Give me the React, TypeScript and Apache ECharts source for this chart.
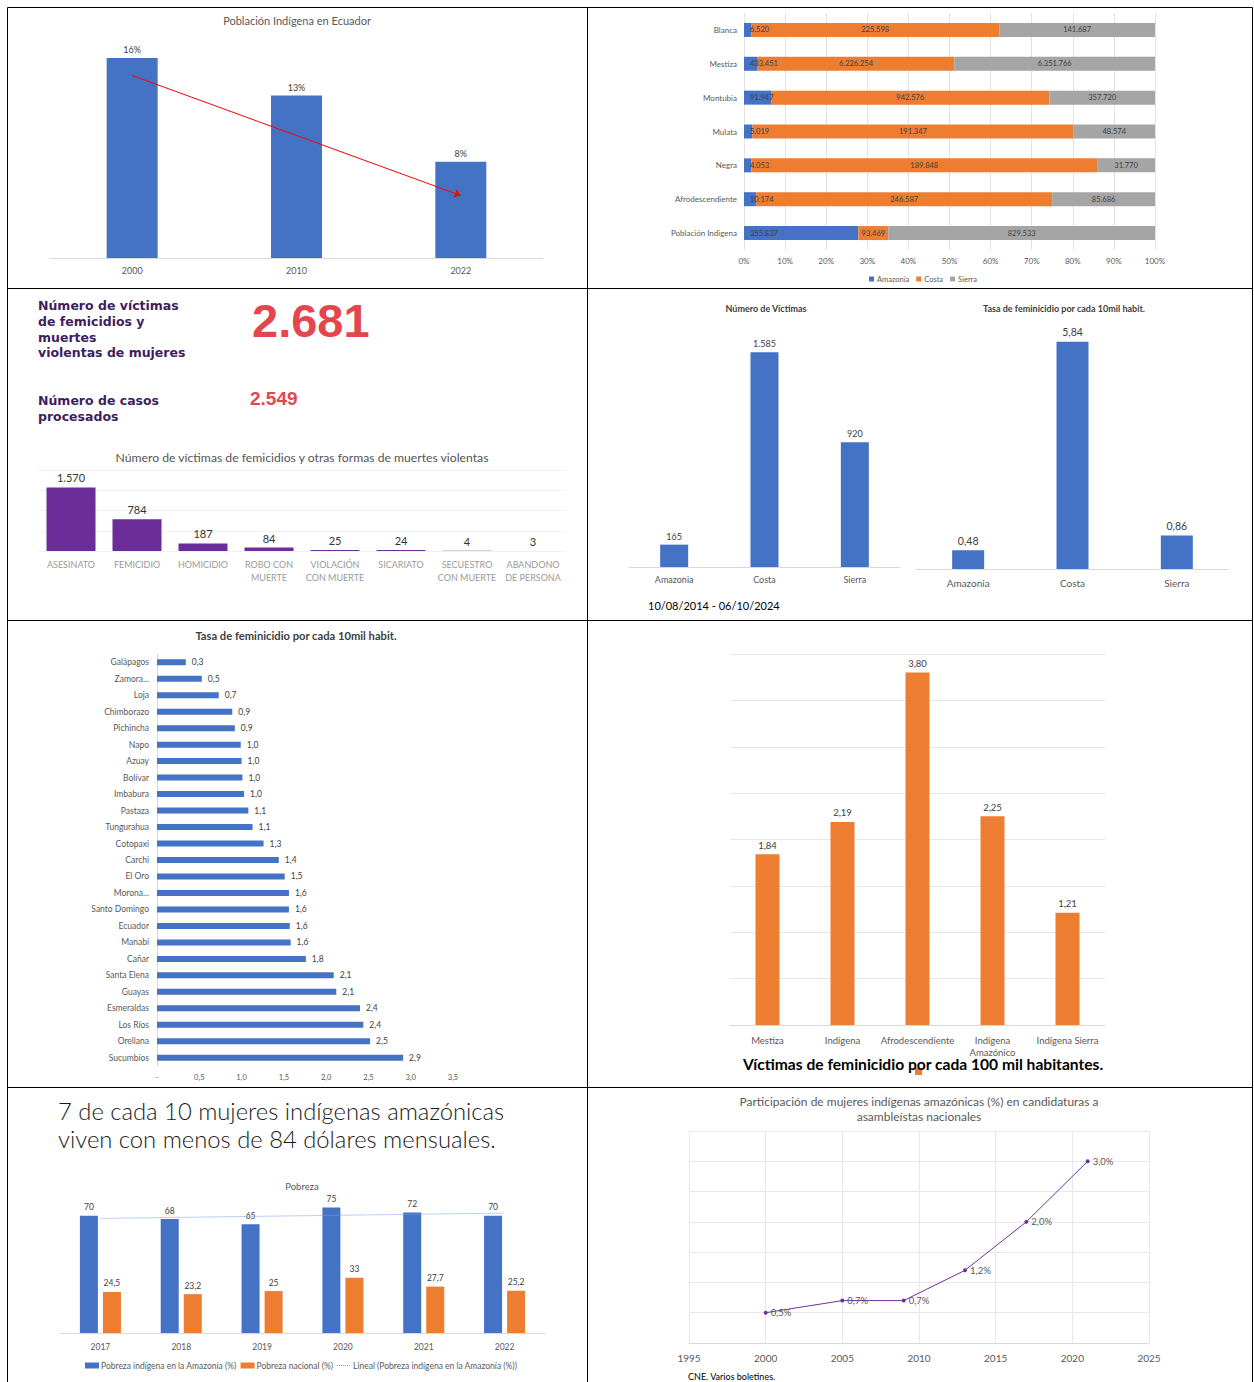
import React, { useEffect, useRef } from 'react';
import * as echarts from 'echarts';

const FONT = 'Lato, "Open Sans", sans-serif';

// Panel 1 — Población Indígena en Ecuador
const popYears = ['2000', '2010', '2022'];
const popShare = [16, 13, 7.7];
const popArrow = [14.6, 5.0];

// Panel 2 — stacked shares by region
const ethnicGroups = ['Blanca', 'Mestiza', 'Montubia', 'Mulata', 'Negra', 'Afrodescendiente', 'Población Indigena'];
const regionNames = ['Amazonía', 'Costa', 'Sierra'];
const amazonia = [6520, 433451, 91947, 5019, 4053, 10174, 355837];
const costa = [225598, 6226254, 942576, 191347, 189848, 246587, 93469];
const sierra = [141687, 6351766, 357720, 48574, 31770, 85686, 829533];

// Panel 3 — KPIs and death types
const kpiVictims = 2681;
const kpiCases = 2549;
const deathTypes = ['ASESINATO', 'FEMICIDIO', 'HOMICIDIO', 'ROBO CON\nMUERTE', 'VIOLACIÓN\nCON MUERTE', 'SICARIATO', 'SECUESTRO\nCON MUERTE', 'ABANDONO\nDE PERSONA'];
const deathCounts = [1570, 784, 187, 84, 25, 24, 4, 3];

// Panel 4 — by region
const regions3 = ['Amazonia', 'Costa', 'Sierra'];
const victimsByRegion = [165, 1585, 920];
const rateByRegion = [0.48, 5.84, 0.86];
const periodText = '10/08/2014 - 06/10/2024';

// Panel 5 — by province
const provinces = ['Galápagos', 'Zamora...', 'Loja', 'Chimborazo', 'Pichincha', 'Napo', 'Azuay', 'Bolívar', 'Imbabura', 'Pastaza', 'Tungurahua', 'Cotopaxi', 'Carchi', 'El Oro', 'Morona...', 'Santo Domingo', 'Ecuador', 'Manabí', 'Cañar', 'Santa Elena', 'Guayas', 'Esmeraldas', 'Los Ríos', 'Orellana', 'Sucumbíos'];
const provinceRates = [0.34, 0.53, 0.73, 0.89, 0.92, 0.99, 1.0, 1.01, 1.03, 1.08, 1.13, 1.26, 1.44, 1.51, 1.56, 1.56, 1.57, 1.58, 1.76, 2.09, 2.12, 2.4, 2.44, 2.52, 2.91];

// Panel 6 — by ethnicity
const ethnicities = ['Mestiza', 'Indígena', 'Afrodescendiente', 'Indígena\nAmazónico', 'Indígena Sierra'];
const ethnicRates = [1.84, 2.19, 3.8, 2.25, 1.21];

// Panel 7 — Pobreza
const povYears = ['2017', '2018', '2019', '2020', '2021', '2022'];
const povAmazon = [70, 68, 65, 75, 72, 70];
const povNational = [24.5, 23.2, 25, 33, 27.7, 25.2];
const povSeries = ['Pobreza indígena en la Amazonía (%)', 'Pobreza nacional (%)', 'Lineal (Pobreza indígena en la Amazonía (%))'];

// Panel 8 — candidaturas
const candYears = [2000, 2005, 2009, 2013, 2017, 2021];
const candShare = [0.5, 0.7, 0.7, 1.2, 2.0, 3.0];

const BLUE = '#4472c4';
const ORANGE = '#ed7d31';
const GRAY = '#a5a5a5';
const PURPLE = '#6a2d9a';
const RED = '#e3464f';
const AXIS = '#d9d9d9';
const LABEL = '#595959';
const TREND = '#7f9fd8';

// dotted-line legend icon (bounding box 14x6 kept by the two leading moveTo points)
const DOTTED_ICON = 'path://M0,0M14,6' + [0, 2, 4, 6, 8, 10, 12].map((x) => `M${x},2.5h1.1v1h-1.1z`).join('');

const thousands = (n: number) => String(Math.round(n)).replace(/\B(?=(\d{3})+(?!\d))/g, '.');
const dec = (n: number, d: number) => n.toFixed(d).replace('.', ',');

const linearFit = (ys: number[]) => {
  const n = ys.length;
  const mx = (n - 1) / 2;
  const my = ys.reduce((a, b) => a + b, 0) / n;
  let sxy = 0, sxx = 0;
  ys.forEach((y, i) => { sxy += (i - mx) * (y - my); sxx += (i - mx) * (i - mx); });
  const b = sxy / sxx;
  return ys.map((_, i) => my + b * (i - mx));
};

const txt = (x: number, y: number, text: string, s: any = {}) => ({
  type: 'text', x, y, silent: true,
  style: { text, fill: LABEL, fontFamily: FONT, fontSize: 9, align: 'center', verticalAlign: 'middle', ...s },
});
const ln = (x1: number, y1: number, x2: number, y2: number) => ({
  type: 'line', silent: true, shape: { x1, y1, x2, y2 }, style: { stroke: '#000', lineWidth: 1 },
});

function buildOption() {
  const totals = ethnicGroups.map((_, i) => amazonia[i] + costa[i] + sierra[i]);
  const pct = (arr: number[]) => arr.map((v, i) => (v / totals[i]) * 100);
  const regionRaw = [amazonia, costa, sierra];
  const regionColors = [BLUE, ORANGE, GRAY];

  const grid = (left: number, top: number, width: number, height: number) => ({ left, top, width, height, containLabel: false, outerBoundsMode: 'none' });
  const catX = (data: string[], gridIndex: number, extra: any = {}) => ({
    type: 'category', data, gridIndex,
    axisLine: { show: true, lineStyle: { color: AXIS } },
    axisTick: { show: false },
    axisLabel: { interval: 0, color: LABEL, fontSize: 9, fontFamily: FONT, margin: 8 },
    ...extra,
  });
  const hiddenY = (gridIndex: number, max: number) => ({
    type: 'value', gridIndex, min: 0, max,
    axisLine: { show: false }, axisTick: { show: false }, axisLabel: { show: false }, splitLine: { show: false },
  });

  const labelTop = (fmt: (v: number) => string, fontSize = 9, color = '#404040') => ({
    show: true, position: 'top', distance: 4, color, fontSize, fontFamily: FONT,
    formatter: (p: any) => fmt(typeof p.value === 'number' ? p.value : p.value[1]),
  });

  return {
    animation: false,
    textStyle: { fontFamily: FONT },
    grid: [
      grid(50, 33, 493, 225),
      grid(744, 13, 411, 237),
      grid(38, 470, 528, 81),
      grid(629, 323, 271, 244),
      grid(916, 316, 313, 253),
      grid(157, 654, 296, 412),
      grid(730, 654, 375, 371),
      grid(60, 1199, 485, 134),
      grid(689, 1131, 460, 212),
    ],
    xAxis: [
      catX(popYears, 0),
      {
        type: 'value', gridIndex: 1, min: 0, max: 100, interval: 10,
        axisLine: { show: false }, axisTick: { show: false },
        axisLabel: { formatter: '{value}%', color: LABEL, fontSize: 8, fontFamily: FONT, margin: 7 },
        splitLine: { show: true, lineStyle: { color: '#e3e3e3' } },
      },
      catX(deathTypes, 2, {
        axisLine: { show: false },
        axisLabel: { interval: 0, color: '#9a9a9a', fontSize: 9, fontFamily: FONT, margin: 7, lineHeight: 13 },
      }),
      catX(regions3, 3),
      catX(regions3, 4, { axisLabel: { interval: 0, color: LABEL, fontSize: 10, fontFamily: FONT, margin: 9 } }),
      {
        type: 'value', gridIndex: 5, min: 0, max: 3.5, interval: 0.5,
        axisLine: { show: false }, axisTick: { show: false }, splitLine: { show: false },
        axisLabel: { color: LABEL, fontSize: 7.5, fontFamily: FONT, margin: 7, formatter: (v: number) => (v === 0 ? '-' : dec(v, 1)) },
      },
      catX(ethnicities, 6, { axisLabel: { interval: 0, color: LABEL, fontSize: 9.5, fontFamily: FONT, margin: 9, lineHeight: 12 } }),
      catX(povYears, 7, { axisLabel: { interval: 0, color: LABEL, fontSize: 8.5, fontFamily: FONT, margin: 9 } }),
      {
        type: 'value', gridIndex: 8, min: 1995, max: 2025, interval: 5,
        axisLine: { show: true, lineStyle: { color: AXIS } }, axisTick: { show: false },
        axisLabel: { color: LABEL, fontSize: 10, fontFamily: FONT, margin: 10, formatter: (v: number) => String(v) },
        splitLine: { show: true, lineStyle: { color: '#e8e8e8' } },
      },
    ],
    yAxis: [
      hiddenY(0, 18),
      {
        type: 'category', gridIndex: 1, data: ethnicGroups, inverse: true,
        axisLine: { show: false }, axisTick: { show: false },
        axisLabel: { interval: 0, color: LABEL, fontSize: 8, fontFamily: FONT, margin: 7 },
      },
      {
        type: 'value', gridIndex: 2, min: 0, max: 2000, interval: 500,
        axisLine: { show: false }, axisTick: { show: false }, axisLabel: { show: false },
        splitLine: { show: true, lineStyle: { color: '#f1f1f1' } },
      },
      hiddenY(3, 1800),
      hiddenY(4, 6.5),
      {
        type: 'category', gridIndex: 5, data: provinces, inverse: true,
        axisLine: { show: true, lineStyle: { color: AXIS } }, axisTick: { show: false },
        axisLabel: { interval: 0, color: LABEL, fontSize: 8.5, fontFamily: FONT, margin: 8 },
      },
      {
        type: 'value', gridIndex: 6, min: 0, max: 4, interval: 0.5,
        axisLine: { show: false }, axisTick: { show: false }, axisLabel: { show: false },
        splitLine: { show: true, lineStyle: { color: '#e6e6e6' } },
      },
      hiddenY(7, 80),
      {
        type: 'value', gridIndex: 8, min: 0, max: 3.5, interval: 0.5,
        axisLine: { show: false }, axisTick: { show: false }, axisLabel: { show: false },
        splitLine: { show: true, lineStyle: { color: '#e8e8e8' } },
      },
    ],
    legend: [
      {
        data: regionNames, left: 864, top: 270, icon: 'rect', itemWidth: 5, itemHeight: 5, itemGap: 7,
        textStyle: { fontSize: 7.5, color: LABEL, fontFamily: FONT, padding: [0, 0, 0, -2] }, selectedMode: false,
      },
      {
        data: [
          { name: povSeries[0], icon: 'rect' },
          { name: povSeries[1], icon: 'rect' },
          { name: povSeries[2], icon: DOTTED_ICON, itemStyle: { color: TREND } },
        ],
        left: 80, top: 1356, itemWidth: 14, itemHeight: 6, itemGap: 4,
        textStyle: { fontSize: 8.5, color: LABEL, fontFamily: FONT, padding: [0, 0, 0, -3] }, selectedMode: false,
      },
    ],
    series: [
      {
        type: 'bar', xAxisIndex: 0, yAxisIndex: 0, data: popShare, barWidth: 51,
        itemStyle: { color: BLUE }, label: labelTop((v) => `${Math.round(v)}%`),
        markLine: {
          silent: true, animation: false, symbol: ['none', 'arrow'], symbolSize: 7,
          lineStyle: { color: '#ff0000', width: 1, type: 'solid' }, label: { show: false },
          data: [[{ coord: [popYears[0], popArrow[0]] }, { coord: [popYears[2], popArrow[1]] }]],
        },
      },
      ...regionNames.map((name, k) => ({
        type: 'bar', name, stack: 'p2', xAxisIndex: 1, yAxisIndex: 1, barWidth: 14,
        data: pct(regionRaw[k]), itemStyle: { color: regionColors[k] },
        label: {
          show: true, position: k === 0 ? 'insideLeft' : 'inside', distance: 6,
          color: '#404040', fontSize: 7.5, fontFamily: FONT,
          formatter: (p: any) => thousands(regionRaw[k][p.dataIndex]),
        },
      })),
      {
        type: 'bar', xAxisIndex: 2, yAxisIndex: 2, data: deathCounts, barWidth: 49,
        itemStyle: { color: PURPLE }, label: labelTop(thousands, 11, '#333'),
      },
      {
        type: 'bar', xAxisIndex: 3, yAxisIndex: 3, data: victimsByRegion, barWidth: 28,
        itemStyle: { color: BLUE }, label: labelTop(thousands, 9),
      },
      {
        type: 'bar', xAxisIndex: 4, yAxisIndex: 4, data: rateByRegion, barWidth: 32,
        itemStyle: { color: BLUE }, label: labelTop((v) => dec(v, 2), 10.5),
      },
      {
        type: 'bar', xAxisIndex: 5, yAxisIndex: 5, data: provinceRates, barWidth: 6,
        itemStyle: { color: BLUE },
        label: { show: true, position: 'right', distance: 6, color: '#404040', fontSize: 8.5, fontFamily: FONT, formatter: (p: any) => dec(p.value, 1) },
      },
      {
        type: 'bar', xAxisIndex: 6, yAxisIndex: 6, data: ethnicRates, barWidth: 24,
        itemStyle: { color: ORANGE }, label: labelTop((v) => dec(v, 2), 9.5),
      },
      {
        type: 'bar', name: povSeries[0], xAxisIndex: 7, yAxisIndex: 7, data: povAmazon, barWidth: 18, barGap: '28%',
        itemStyle: { color: BLUE }, label: labelTop((v) => dec(v, v % 1 ? 1 : 0), 8.5),
      },
      {
        type: 'bar', name: povSeries[1], xAxisIndex: 7, yAxisIndex: 7, data: povNational, barWidth: 18, barGap: '28%',
        itemStyle: { color: ORANGE }, label: labelTop((v) => dec(v, v % 1 ? 1 : 0), 8.5),
      },
      {
        type: 'line', name: povSeries[2], xAxisIndex: 7, yAxisIndex: 7, data: linearFit(povAmazon),
        symbol: 'none', lineStyle: { color: TREND, width: 1, type: 'dotted' }, itemStyle: { color: TREND }, z: 5,
      },
      {
        type: 'line', xAxisIndex: 8, yAxisIndex: 8, data: candYears.map((y, i) => [y, candShare[i]]),
        symbol: 'circle', symbolSize: 4, lineStyle: { color: '#7030a0', width: 1 }, itemStyle: { color: '#7030a0' },
        label: { show: true, position: 'right', distance: 3, color: LABEL, fontSize: 9.5, fontFamily: FONT, formatter: (p: any) => `${dec(p.value[1], 1)}%` },
      },
    ],
    graphic: [
      // borders
      ln(7.5, 7.5, 1252.5, 7.5), ln(7.5, 7.5, 7.5, 1382), ln(1252.5, 7.5, 1252.5, 1382), ln(587.5, 7.5, 587.5, 1382),
      ln(7.5, 288.5, 1252.5, 288.5), ln(7.5, 620.5, 1252.5, 620.5), ln(7.5, 1087.5, 1252.5, 1087.5),
      // panel 1
      txt(297, 20, 'Población Indígena en Ecuador', { fontSize: 11 }),
      // panel 3
      txt(38, 298, 'Número de víctimas\nde femicidios y\nmuertes\nviolentas de mujeres', {
        align: 'left', verticalAlign: 'top', fontFamily: '"DejaVu Sans", sans-serif', fontWeight: 'bold', fontSize: 12.5, lineHeight: 15.7, fill: '#3f1d5e',
      }),
      txt(252, 320, thousands(kpiVictims), { align: 'left', fontFamily: '"Liberation Sans", Arial, sans-serif', fontWeight: 'bold', fontSize: 47, fill: RED }),
      txt(38, 393, 'Número de casos\nprocesados', {
        align: 'left', verticalAlign: 'top', fontFamily: '"DejaVu Sans", sans-serif', fontWeight: 'bold', fontSize: 12.5, lineHeight: 15.7, fill: '#3f1d5e',
      }),
      txt(250, 398, thousands(kpiCases), { align: 'left', fontFamily: '"Liberation Sans", Arial, sans-serif', fontWeight: 'bold', fontSize: 19, fill: RED }),
      txt(302, 457, 'Número de víctimas de femicidios y otras formas de muertes violentas', { fontSize: 12.2, fill: '#555' }),
      // panel 4
      txt(766, 308, 'Número de Víctimas', { fontSize: 9, fontWeight: 'bold', fill: '#404040' }),
      txt(1064, 308, 'Tasa de feminicidio por cada 10mil habit.', { fontSize: 9, fontWeight: 'bold', fill: '#404040' }),
      txt(648, 605, periodText, { align: 'left', fontSize: 11, fill: '#000' }),
      // panel 5
      txt(296, 635, 'Tasa de feminicidio por cada 10mil habit.', { fontSize: 11.2, fontWeight: 'bold', fill: '#404040' }),
      // panel 6
      { type: 'rect', silent: true, shape: { x: 915, y: 1068, width: 7, height: 7 }, style: { fill: ORANGE } },
      txt(923, 1064, 'Víctimas de feminicidio por cada 100 mil habitantes.', { fontSize: 15.6, fontWeight: 'bold', fill: '#000' }),
      // panel 7
      txt(58, 1097, '7 de cada 10 mujeres indígenas amazónicas\nviven con menos de 84 dólares mensuales.', {
        align: 'left', verticalAlign: 'top', fontSize: 23.8, fontWeight: 300, lineHeight: 28, fill: '#1a1a1a',
      }),
      txt(302, 1186, 'Pobreza', { fontSize: 9.5 }),
      // panel 8
      txt(919, 1109, 'Participación de mujeres indígenas amazónicas (%) en candidaturas a\nasambleístas nacionales', { fontSize: 12, lineHeight: 15 }),
      txt(688, 1376, 'CNE. Varios boletines.', { align: 'left', fontSize: 9, fill: '#000' }),
    ],
  };
}

export default function App() {
  const ref = useRef<HTMLDivElement>(null);
  useEffect(() => {
    if (!ref.current) return;
    const chart = echarts.init(ref.current, undefined, { renderer: 'svg' });
    chart.setOption(buildOption() as any);
    return () => chart.dispose();
  }, []);
  return (
    <div style={{ position: 'absolute', left: 0, top: 0, width: 1254, height: 1382, background: '#fff' }}>
      <div ref={ref} style={{ width: 1254, height: 1382 }} />
    </div>
  );
}
